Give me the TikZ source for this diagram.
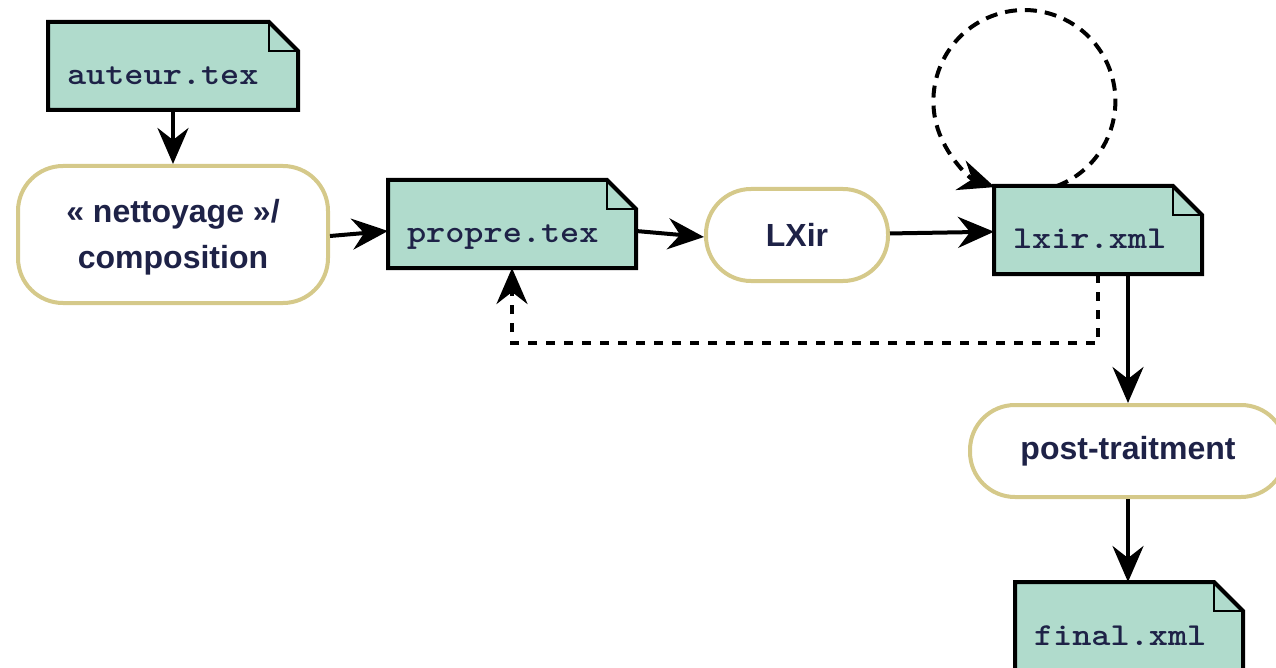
\documentclass[tikz,border=0pt]{standalone}
\usepackage{fontspec}
\setmainfont{Liberation Sans}
\newfontfamily\filefont[FakeStretch=1.14]{lmmonolt10-bold.otf}
\usetikzlibrary{arrows.meta,backgrounds}
\definecolor{filefill}{HTML}{B0DBCC}
\definecolor{stepedge}{HTML}{D5C98A}
\definecolor{ink}{HTML}{1E2247}

\tikzset{
  filebox/.style={rectangle, draw=none, inner xsep=17pt, inner ysep=0pt,
    outer sep=2pt, text width=#1, align=left, text height=61pt, text depth=23pt,
    font=\filefont\fontsize{32}{38}\selectfont, text=ink},
  fileedge/.style={draw=black, fill=filefill, line width=4pt},
  foldedge/.style={draw=black, line width=2.5pt},
  stepbox/.style={rectangle, rounded corners=45pt, draw=stepedge, line width=4pt,
    fill=white, text=ink, font=\bfseries\fontsize{32}{46}\selectfont,
    align=center, inner sep=0pt},
  arr/.style={line width=4pt, -{Stealth[length=36pt, width=31pt, inset=12pt]}},
  backarr/.style={arr, dash pattern=on 9pt off 9pt},
  looparr/.style={arr, dash pattern=on 12pt off 8pt},
}

\begin{document}
\begin{tikzpicture}[x=1pt, y=-1pt]
  \useasboundingbox (0,0) rectangle (1276,668);

  % files
  \node[filebox=212pt, anchor=north west] (auteur) at (48,22)   {auteur.tex};
  \node[filebox=210pt, anchor=north west] (propre) at (388,180) {propre.tex};
  \node[filebox=170pt, anchor=north west] (lxir)   at (994,186) {lxir.xml};
  \node[filebox=190pt, anchor=north west] (final)  at (1015,582) {final.xml};

  % processing steps
  \node[stepbox, minimum width=310pt, minimum height=137pt, text height=74pt]
    (net) at (173,234.5) {« nettoyage »/\\composition};
  \node[stepbox, minimum width=182pt, minimum height=92pt] (lx) at (797,235) {LXir};
  \node[stepbox, minimum width=316pt, minimum height=92pt] (post) at (1128,451)
    {post-traitment};

  % file outlines with folded corner
  \begin{pgfonlayer}{background}
    \foreach \n in {auteur,propre,lxir,final} {
      \draw[fileedge] (\n.south west) -- (\n.north west)
        -- ([xshift=-29pt]\n.north east) -- ([yshift=-29pt]\n.north east)
        -- (\n.south east) -- cycle;
      \draw[foldedge] ([xshift=-29pt]\n.north east) |- ([yshift=-29pt]\n.north east);
    }
  \end{pgfonlayer}

  % flow
  \draw[arr] (auteur) -- (net);
  \draw[arr] (net.east |- 0,236) -- (propre.west |- 0,231);
  \draw[arr] (propre.east |- 0,231) -- (lx.west |- 0,237);
  \draw[arr] (lx) -- (lxir);
  \draw[arr] (lxir.south -| post.north) -- (post.north);
  \draw[arr] (post.south) -- (post.south |- final.north);

  % feedback loops
  \draw[backarr] (lxir.south) -- ++(0,69) -| (propre.south);
  \draw[looparr] ([xshift=-41pt]lxir.north) arc[start angle=69, end angle=-251, radius=91];
\end{tikzpicture}
\end{document}
